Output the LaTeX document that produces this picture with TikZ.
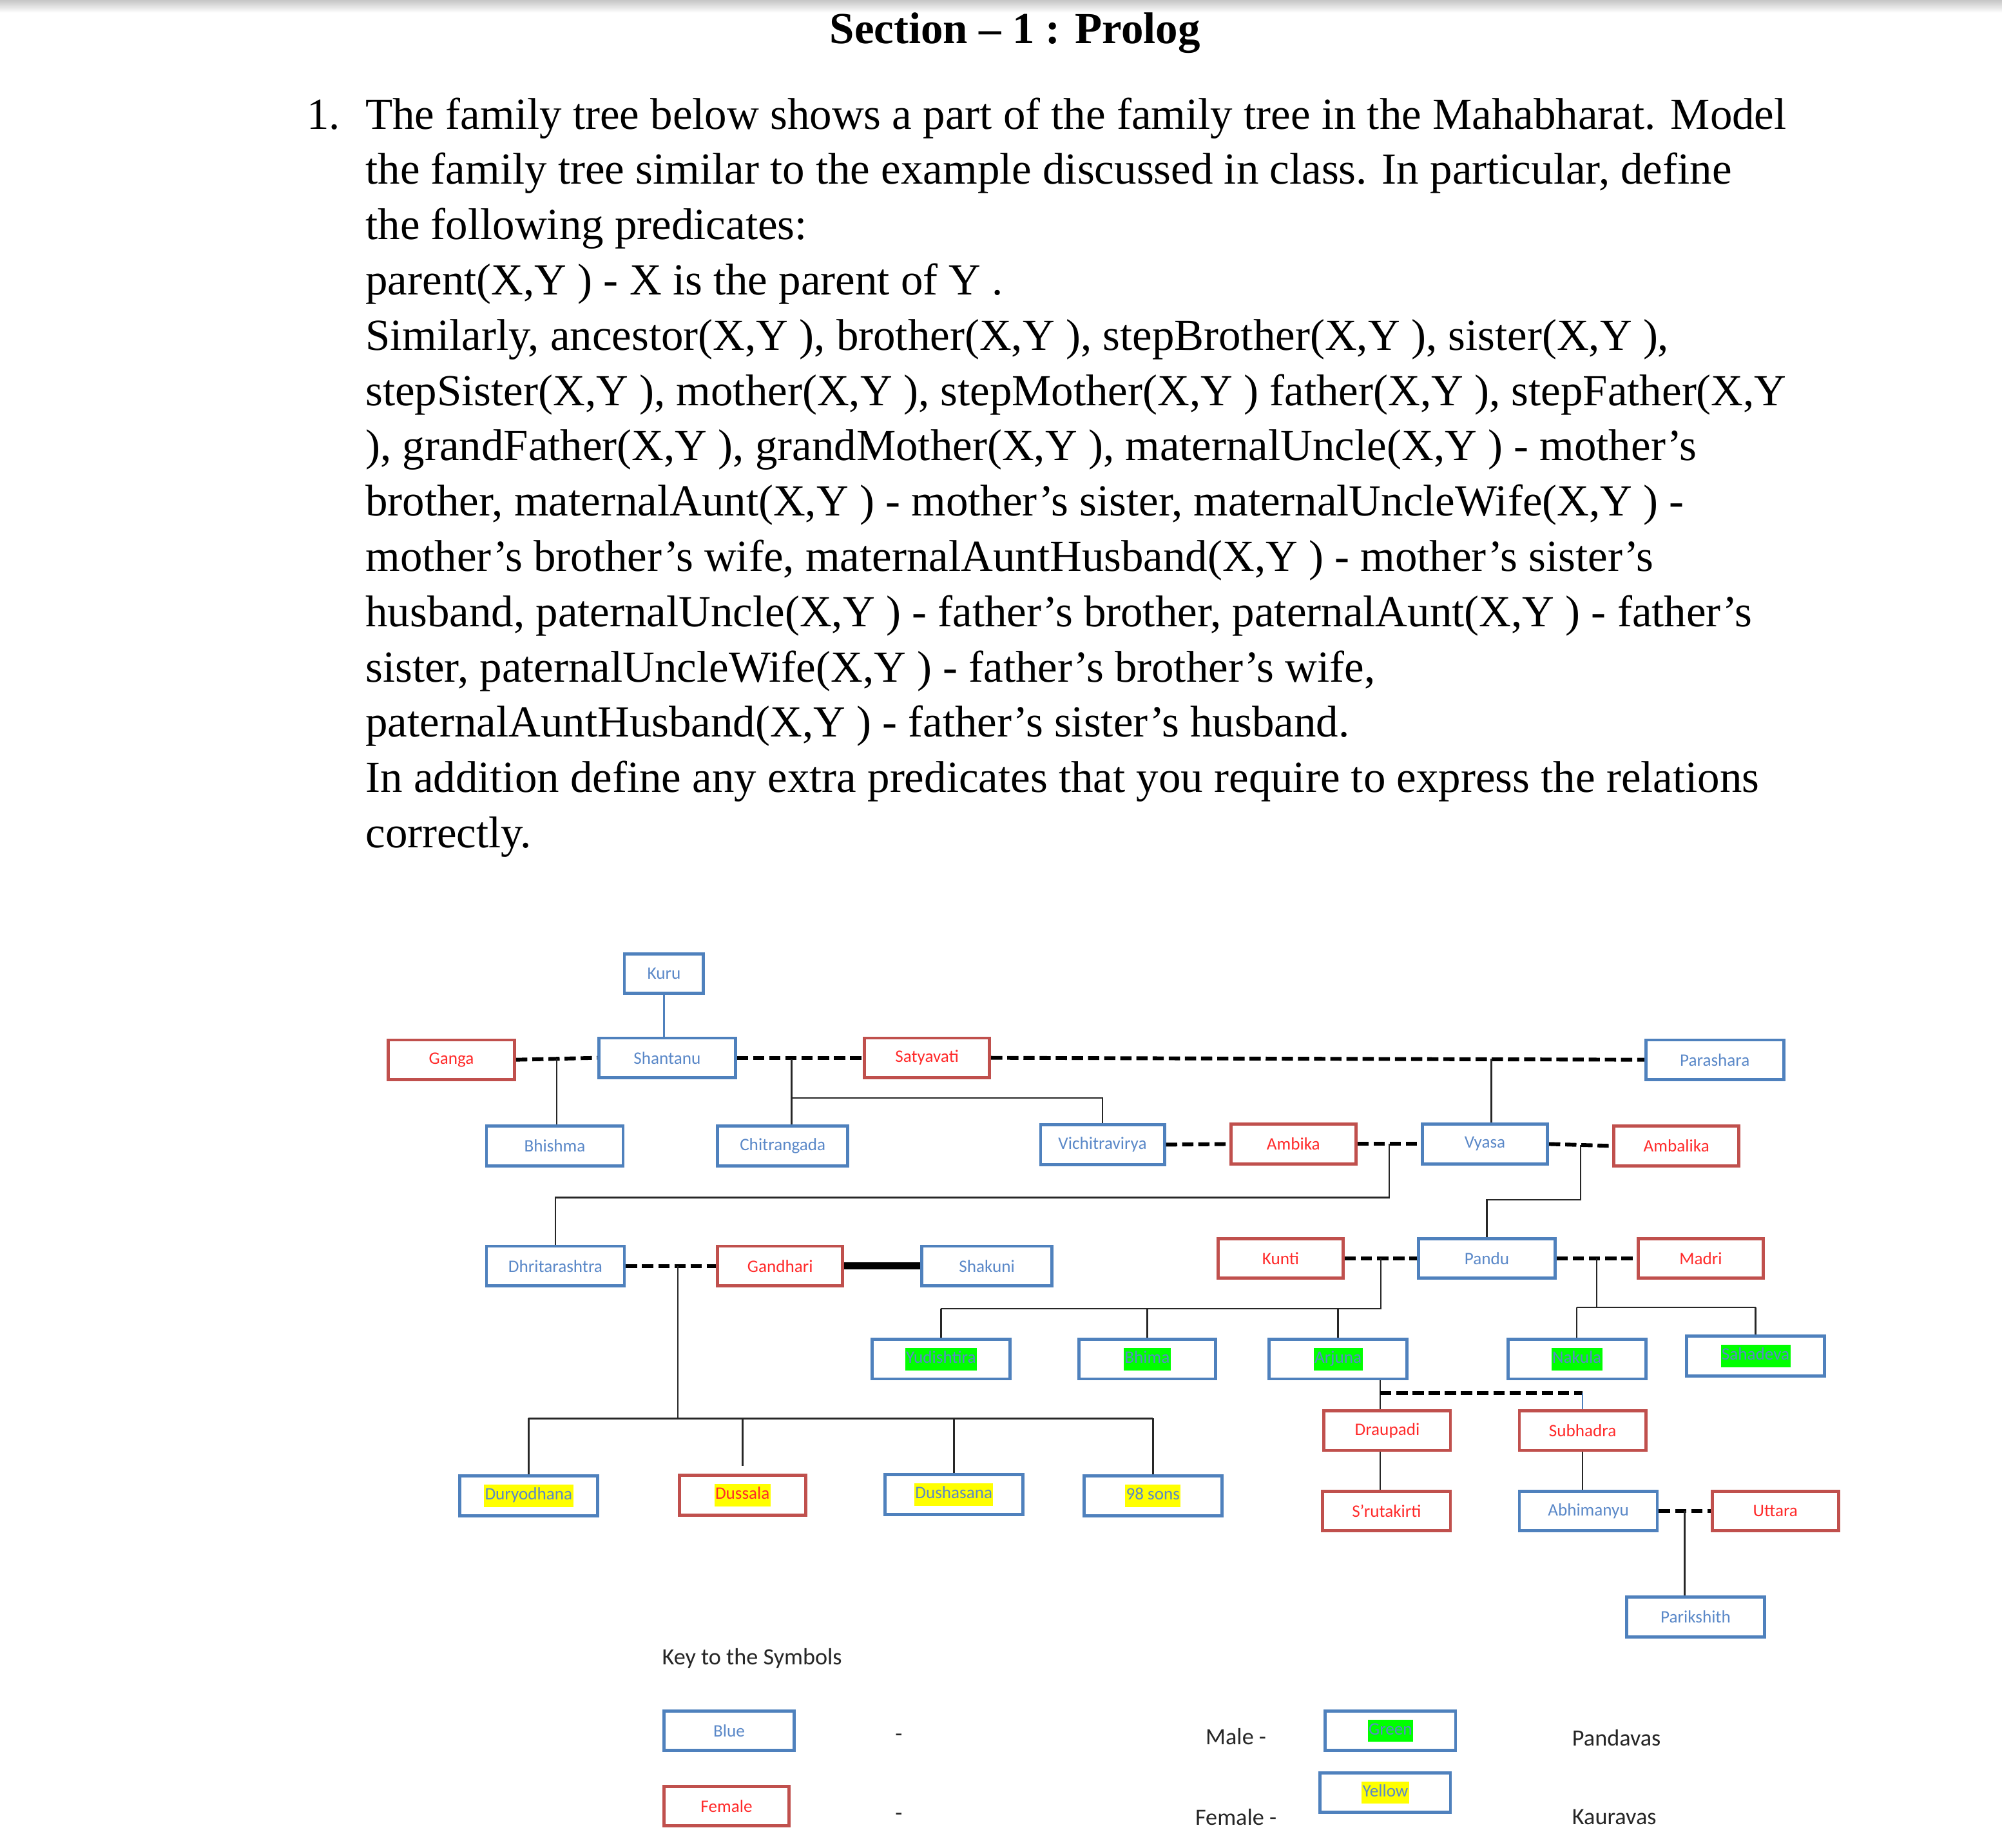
\documentclass[tikz,border=0pt]{standalone}
\usepackage{fontspec}
\setmainfont{Liberation Serif}
\newfontfamily\lblfont{Carlito}
\usetikzlibrary{calc, positioning}

\definecolor{boxblue}{HTML}{4F81BD}
\definecolor{boxred}{HTML}{C0504D}
\definecolor{namblue}{HTML}{5A88C8}
\definecolor{namred}{HTML}{FF2A2A}
\definecolor{hlgreen}{HTML}{00FF00}
\definecolor{hlyellow}{HTML}{FFFF00}

\newcommand{\pandhl}[1]{{\setlength{\fboxsep}{0.4pt}\colorbox{hlgreen}{\strut#1}}}
\newcommand{\kaurhl}[1]{{\setlength{\fboxsep}{0.4pt}\colorbox{hlyellow}{\strut#1}}}

\begin{document}
\begin{tikzpicture}[x=0.02cm, y=-0.02cm,
  person/.style={rectangle, line width=1.4pt, inner sep=0pt, minimum height=0.62cm,
                 font=\lblfont\fontsize{7.8}{9.2}\selectfont},
  male/.style={person, draw=boxblue, text=namblue, minimum width={(#1-2)*0.02cm}},
  male/.default=110,
  female/.style={person, draw=boxred, text=namred, minimum width={(#1-2)*0.02cm}},
  female/.default=101,
  couple/.style={draw=black, line width=1.7pt, dash pattern=on 5pt off 2.2pt},
  kin/.style={draw=black!85, line width=0.75pt},
  keytext/.style={font=\lblfont\fontsize{10.4}{12}\selectfont, text=black!85, inner sep=0pt},
  body/.style={font=\fontsize{19.8}{24}\selectfont, inner sep=0pt, anchor=base west},
]

% page
\fill[white] (0,0) rectangle (1568,1447);
\useasboundingbox (0,0) rectangle (1568,1447);
\shade[top color=gray!45, bottom color=white] (0,0) rectangle (1568,10);

% question text
\node[font=\fontsize{19.8}{23}\selectfont\bfseries] (title) at (795,26) {Section – 1 : Prolog};
\node[body] (num) at (240,101) {1.};
\foreach \ln [count=\i] in {
  {The family tree below shows a part of the family tree in the Mahabharat. Model},
  {the family tree similar to the example discussed in class. In particular, define},
  {the following predicates:},
  {parent(X,Y ) - X is the parent of Y .},
  {Similarly, ancestor(X,Y ), brother(X,Y ), stepBrother(X,Y ), sister(X,Y ),},
  {stepSister(X,Y ), mother(X,Y ), stepMother(X,Y ) father(X,Y ), stepFather(X,Y},
  {), grandFather(X,Y ), grandMother(X,Y ), maternalUncle(X,Y ) - mother’s},
  {brother, maternalAunt(X,Y ) - mother’s sister, maternalUncleWife(X,Y ) -},
  {mother’s brother’s wife, maternalAuntHusband(X,Y ) - mother’s sister’s},
  {husband, paternalUncle(X,Y ) - father’s brother, paternalAunt(X,Y ) - father’s},
  {sister, paternalUncleWife(X,Y ) - father’s brother’s wife,},
  {paternalAuntHusband(X,Y ) - father’s sister’s husband.},
  {In addition define any extra predicates that you require to express the relations},
  {correctly.}} {
  \node[body] (line\i) at (286,{101+(\i-1)*43.3}) {\ln};
}

% generation 0 and 1
\node[male=64] (kuru) at (520,762.5) {Kuru};
\node[female] (ganga) at (353.5,830) {Ganga};
\node[male=109] (shantanu) at (522.5,828.5) {Shantanu};
\node[female=100] (satyavati) at (726,828.5) {Satyavati};
\node[male] (parashara) at (1343,830) {Parashara};

% generation 2
\node[male=109] (bhishma) at (434.5,897.5) {Bhishma};
\node[male=104] (chitrangada) at (613,897.5) {Chitrangada};
\node[male=99] (vichitravirya) at (863.5,896.5) {Vichitravirya};
\node[female=100] (ambika) at (1013,896) {Ambika};
\node[male=100] (vyasa) at (1163,896) {Vyasa};
\node[female=100] (ambalika) at (1313,897.5) {Ambalika};

% generation 3
\node[male] (dhritarashtra) at (435,991.5) {Dhritarashtra};
\node[female=100] (gandhari) at (611,991.5) {Gandhari};
\node[male=104] (shakuni) at (773,991.5) {Shakuni};
\node[female=100] (kunti) at (1003,985.5) {Kunti};
\node[male=109] (pandu) at (1164.5,985.5) {Pandu};
\node[female=100] (madri) at (1332,985.5) {Madri};

% pandavas
\node[male] (yudishtira) at (737,1064.5) {\pandhl{Yudishtira}};
\node[male=109] (bhima) at (898.5,1064.5) {\pandhl{Bhima}};
\node[male] (arjuna) at (1048,1064.5) {\pandhl{Arjuna}};
\node[male] (nakula) at (1235,1064.5) {\pandhl{Nakula}};
\node[male] (sahadeva) at (1375,1062) {\pandhl{Sahadeva}};
\node[female] (draupadi) at (1086.5,1120.5) {Draupadi};
\node[female] (subhadra) at (1239.5,1120.5) {Subhadra};

% kauravas
\node[male] (duryodhana) at (414,1171.5) {\kaurhl{Duryodhana}};
\node[female] (dussala) at (581.5,1171) {\kaurhl{Dussala}};
\node[male] (dushasana) at (747,1170.5) {\kaurhl{Dushasana}};
\node[male] (sons) at (903,1171.5) {\kaurhl{98 sons}};

% generation 5 and 6
\node[female=102] (srutakirti) at (1086,1183.5) {S’rutakirti};
\node[male] (abhimanyu) at (1244,1183.5) {Abhimanyu};
\node[female] (uttara) at (1390.5,1183.5) {Uttara};
\node[male] (parikshith) at (1328,1266.5) {Parikshith};

% couples
\draw[couple] (ganga.east) -- (shantanu.west);
\draw[couple] (shantanu.east) -- (satyavati.west);
\draw[couple] (satyavati.east) -- (parashara.west);
\draw[couple] (vichitravirya.east) -- (ambika.west);
\draw[couple] (ambika.east) -- (vyasa.west);
\draw[couple] (vyasa.east) -- (ambalika.west);
\draw[couple] (dhritarashtra.east) -- (gandhari.west);
\draw[black, line width=3pt] (gandhari.east) -- (shakuni.west);
\draw[couple] (kunti.east) -- (pandu.west);
\draw[couple] (pandu.east) -- (madri.west);
\draw[couple] (abhimanyu.east) -- (uttara.west);

% junctions on the couple lines
\coordinate (gs) at ($(ganga.east)!0.5!(shantanu.west)$);
\coordinate (ss) at (620,829.5);
\coordinate (sp) at (1168,829);
\coordinate (av) at ($(ambika.east)!0.5!(vyasa.west)$);
\coordinate (va) at ($(vyasa.east)!0.5!(ambalika.west)$);
\coordinate (dg) at (531,991.5);
\coordinate (kp) at ($(kunti.east)!0.5!(pandu.west)$);
\coordinate (pm) at ($(pandu.east)!0.5!(madri.west)$);
\coordinate (aw) at (1081,1091);
\coordinate (au) at ($(abhimanyu.east)!0.5!(uttara.west)$);

% descent lines
\draw[boxblue, line width=0.8pt] (kuru.south) -- (kuru.south |- shantanu.north);
\draw[kin] (gs) -- (gs |- bhishma.north);
\draw[kin] (ss) -- (ss |- chitrangada.north);
\draw[kin] (ss |- 0,860) -| (vichitravirya.north);
\draw[kin] (sp) -- (sp |- vyasa.north);
\draw[kin] (av) -- ++(0,42) -| (dhritarashtra.north);
\draw[kin] (va) -- ++(0,43) -| (pandu.north);

\draw[kin] (dg) -- (dg |- 0,1111);
\draw[kin] (duryodhana.north |- 0,1111) -- (sons.north |- 0,1111);
\foreach \k in {duryodhana, dushasana, sons}
  \draw[kin] (\k.north |- 0,1111) -- (\k.north);
\draw[kin] (dussala.north |- 0,1111) -- ++(0,37);

\draw[kin] (kp) -- (kp |- 0,1025) -- (yudishtira.north |- 0,1025);
\foreach \k in {yudishtira, bhima, arjuna}
  \draw[kin] (\k.north |- 0,1025) -- (\k.north);
\draw[kin] (pm) -- (pm |- 0,1024);
\draw[kin] (nakula.north |- 0,1024) -- (sahadeva.north |- 0,1024);
\foreach \k in {nakula, sahadeva}
  \draw[kin] (\k.north |- 0,1024) -- (\k.north);

\draw[kin] (aw |- arjuna.south) -- (aw |- draupadi.north);
\draw[couple] (aw) -- (aw -| subhadra.north);
\draw[boxblue, line width=0.6pt] (aw -| subhadra.north) -- (subhadra.north);
\draw[kin] (aw |- draupadi.south) -- (aw |- srutakirti.north);
\draw[kin] (subhadra.south) -- (subhadra.south |- abhimanyu.north);
\draw[kin] (au) -- (au |- parikshith.north);

% key
\node[keytext] (keytitle) at (589,1299) {Key to the Symbols};
\node[male=104] (keyblue) at (571,1355.5) {Blue};
\node[female=100] (keyfemale) at (569,1414.5) {Female};
\node[keytext] (dash1) at (704,1361) {-};
\node[keytext] (dash2) at (704,1423) {-};
\node[keytext] (keymale) at (968,1360) {Male -};
\node[keytext] (keyfem) at (968,1423) {Female -};
\node[male=104] (keygreen) at (1089,1355.5) {\pandhl{Green}};
\node[male=104] (keyyellow) at (1085,1404) {\kaurhl{Yellow}};
\node[keytext, anchor=west] (pandavas) at (1231,1361) {Pandavas};
\node[keytext, anchor=west] (kauravas) at (1231,1423) {Kauravas};

\end{tikzpicture}
\end{document}
